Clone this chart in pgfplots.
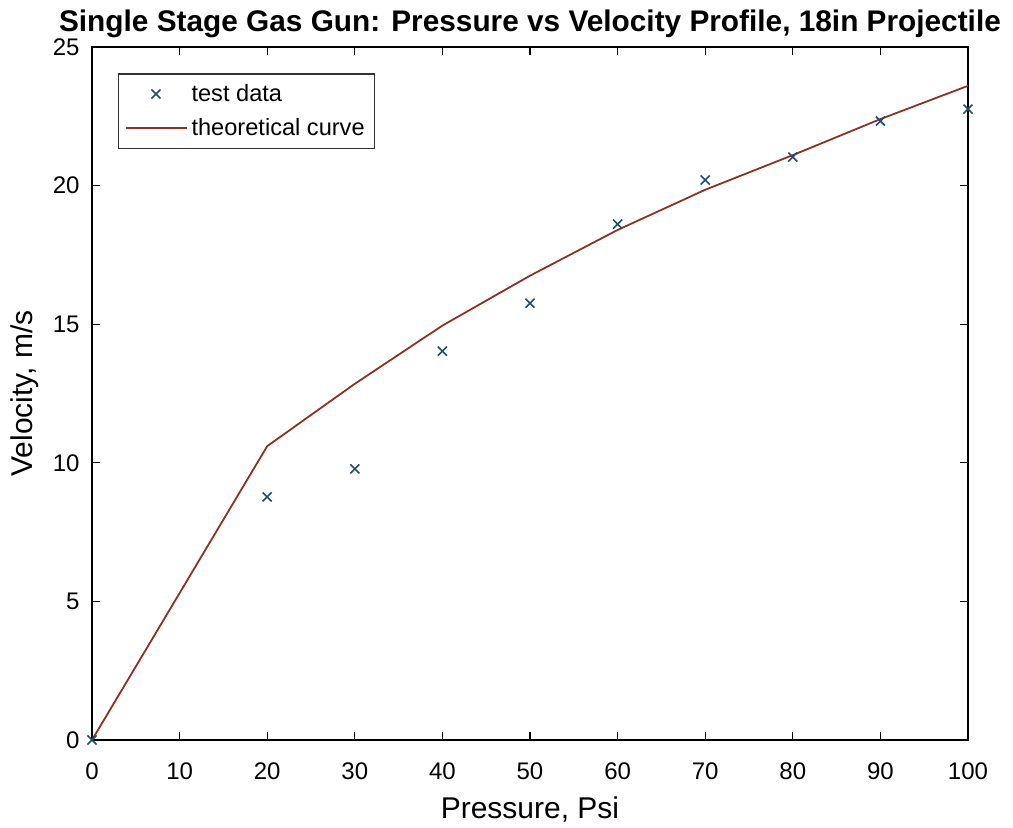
\documentclass[border=0pt]{standalone}
\usepackage{pgfplots}
\pgfplotsset{compat=1.18}
\usepackage{fontspec}
\setmainfont{Liberation Sans}
\definecolor{mblue}{RGB}{31,78,110}
\definecolor{mred}{RGB}{140,50,35}
\pgfplotsset{
    markleg/.style={legend image code/.code={\draw[##1] plot coordinates {(0.53cm,0cm)};}},
    lineleg/.style={legend image code/.code={\draw[##1] (0cm,0cm) -- (1.07cm,0cm);}},
}
\begin{document}
\begin{tikzpicture}
\begin{axis}[
    scale only axis,
    width=438pt, height=346.5pt,
    xmin=0, xmax=100, ymin=0, ymax=25,
    xtick={0,10,...,100}, ytick={0,5,...,25},
    tick align=inside,
    major tick length=4pt,
    tick style={black, line width=0.6pt},
    axis line style={line width=0.7pt},
    /pgf/number format/assume math mode=true,
    ticklabel style={font=\fontsize{12}{14}\selectfont},
    xticklabel style={anchor=base, yshift=-19.5pt},
    yticklabel style={anchor=east, inner sep=0pt, xshift=-6pt},
    xlabel={Pressure, Psi},
    ylabel={Velocity, m/s},
    label style={font=\fontsize{15}{17}\selectfont},
    xlabel style={at={(axis description cs:0.5,-0.1126)}, anchor=base},
    ylabel style={at={(axis description cs:-0.0674,0.5)}, anchor=base},
    title={\textbf{Single Stage Gas Gun: Pressure vs Velocity Profile, 18in Projectile}},
    title style={font=\fontsize{14.9}{17}\selectfont, at={(axis description cs:0.5,1.0245)}, anchor=base, yshift=-6.5pt},
    legend style={at={(0.030,0.962)}, anchor=north west, font=\fontsize{11.8}{14}\selectfont,
        draw=black!80, line width=0.6pt, row sep=3pt, inner sep=3pt,
        nodes={inner sep=2pt}},
    legend cell align=left,
]
\addplot[only marks, mark=x, mark size=3.2pt, mblue, line width=0.8pt, markleg] coordinates {
(0,0) (20,8.77) (30,9.78) (40,14.03) (50,15.76) (60,18.61) (70,20.2) (80,21.03) (90,22.33) (100,22.76)};
\addlegendentry{test data}
\addplot[mred, line width=0.9pt, lineleg] coordinates {
(0,0) (20,10.6) (30,12.85) (40,14.95) (50,16.75) (60,18.4) (70,19.85) (80,21.1) (90,22.4) (100,23.6)};
\addlegendentry{theoretical curve}
\end{axis}
\pgfresetboundingbox
\useasboundingbox (current axis.south west) ++(-46pt,-43.5pt) rectangle ++(506.5pt,413.5pt);
\end{tikzpicture}
\end{document}
